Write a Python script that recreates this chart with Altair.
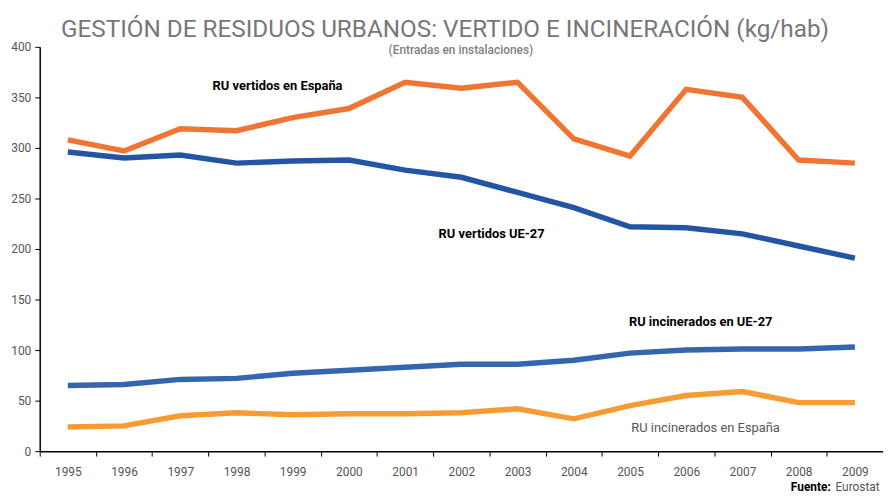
import altair as alt
import pandas as pd

years = [str(y) for y in range(1995, 2010)]
vert_es = [308, 297, 319, 317, 330, 339, 365, 359, 365, 309, 292, 358, 350, 288, 285]
vert_ue = [296, 290, 293, 285, 287, 288, 278, 271, 256, 241, 222, 221, 215, 203, 191]
inc_ue = [65, 66, 71, 72, 77, 80, 83, 86, 86, 90, 97, 100, 101, 101, 103]
inc_es = [24, 25, 35, 38, 36, 37, 37, 38, 42, 32, 45, 55, 59, 48, 48]

series = ["RU vertidos en España", "RU vertidos UE-27",
          "RU incinerados en UE-27", "RU incinerados en España"]
colors = ["#F07532", "#2455A4", "#3466B0", "#F99B33"]
values = [vert_es, vert_ue, inc_ue, inc_es]

rows = []
for s, vals in zip(series, values):
    for y, v in zip(years, vals):
        rows.append({"year": y, "value": v, "serie": s})
df = pd.DataFrame(rows)

FONT = "Roboto"

lines = alt.Chart(df).mark_line(strokeWidth=5.5, strokeJoin="miter").encode(
    x=alt.X("year:O", bandPosition=0.5,
            scale=alt.Scale(type="band", domain=years, paddingInner=0, paddingOuter=0),
            axis=alt.Axis(title=None, labelAngle=0, tickBand="extent", labelFontSize=12,
                          labelColor="#555555", labelFont=FONT, domainColor="#000000",
                          tickColor="#000000", tickSize=5, labelPadding=11)),
    y=alt.Y("value:Q", scale=alt.Scale(domain=[0, 400], nice=False),
            axis=alt.Axis(title=None, values=[0, 50, 100, 150, 200, 250, 300, 350, 400],
                          grid=False, labelFontSize=12, labelColor="#555555", labelFont=FONT,
                          domainColor="#000000", tickColor="#000000", tickSize=5,
                          labelPadding=4)),
    color=alt.Color("serie:N", scale=alt.Scale(domain=series, range=colors), legend=None),
    detail="serie:N",
)


def txt(text, x, y, size=12, weight="normal", color="#000000", align="center", baseline="middle"):
    return alt.Chart(alt.Data(values=[{}])).mark_text(
        font=FONT, fontSize=size, fontWeight=weight, color=color, align=align, baseline=baseline
    ).encode(x=alt.value(x), y=alt.value(y), text=alt.value(text))


texts = [
    txt("GESTIÓN DE RESIDUOS URBANOS: VERTIDO E INCINERACIÓN (kg/hab)", 409, -10, size=24.5,
        weight="normal", color="#76777A", baseline="alphabetic"),
    txt("(Entradas en instalaciones)", 425, 3, size=12, weight=500, color="#808080"),
    txt("RU vertidos en España", 240, 40, size=13, weight="bold"),
    txt("RU vertidos UE-27", 456, 189, size=13, weight="bold"),
    txt("RU incinerados en UE-27", 667, 278, size=13, weight="bold"),
    txt("RU incinerados en España", 672, 385, size=13, color="#555555"),
    txt("Fuente:", 758, 444, size=12, weight="bold", align="left"),
    txt("Eurostat", 803, 444, size=12, color="#555555", align="left"),
]

chart = alt.layer(lines, *texts).properties(
    width=851, height=408,
    autosize=alt.AutoSizeParams(type="none"),
    padding={"left": 32, "top": 37, "right": 0, "bottom": 40},
).configure_view(stroke=None).configure_axisX(domainWidth=1.5).configure_axisY(domainWidth=1.5)

chart.save("out.html", embed_options={"renderer": "svg", "actions": False})
